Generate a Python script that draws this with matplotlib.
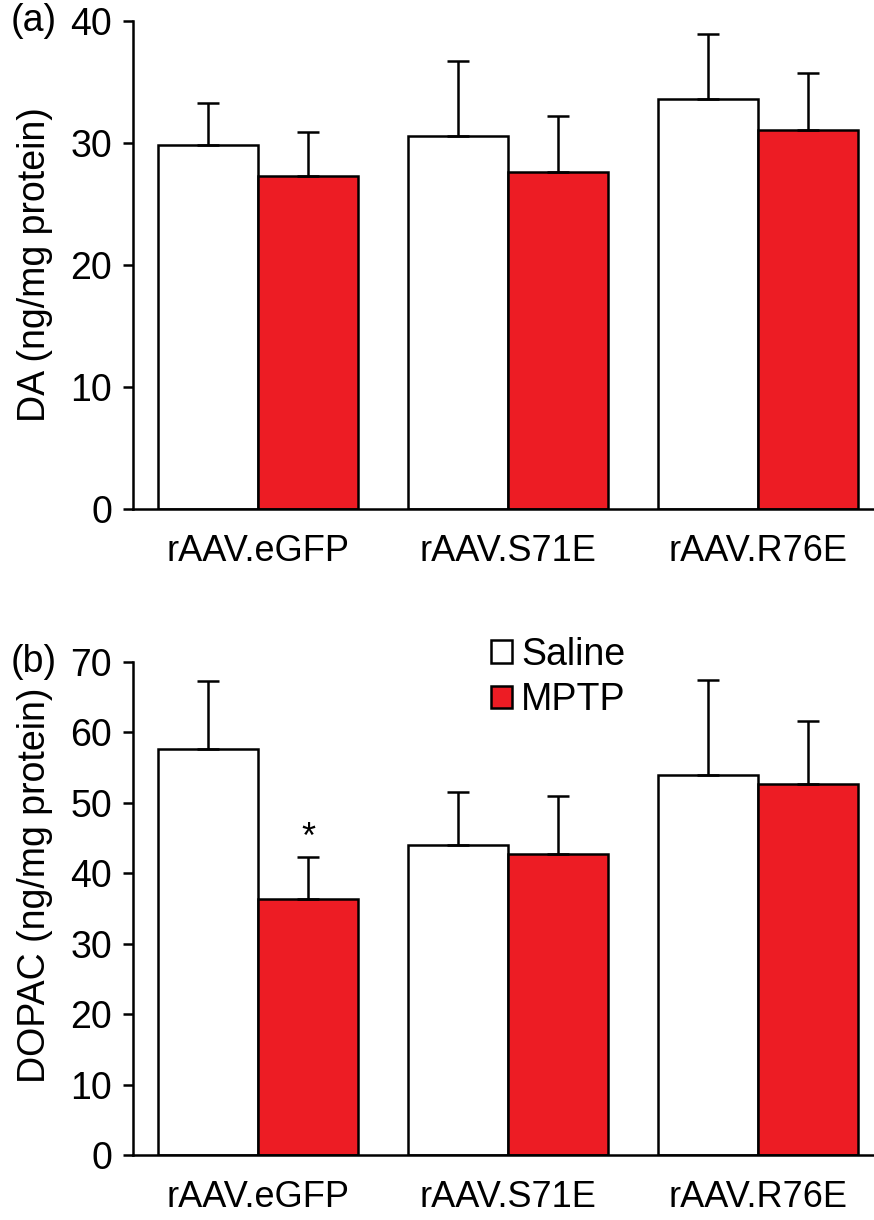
import numpy as np
import matplotlib
matplotlib.use('Agg')
import matplotlib.pyplot as plt
from matplotlib.patches import Patch

plt.rcParams['font.family'] = ['Liberation Sans', 'DejaVu Sans']

groups = ['rAAV.eGFP', 'rAAV.S71E', 'rAAV.R76E']
series = ['Saline', 'MPTP']

da_saline = [29.8, 30.6, 33.6]
da_saline_err = [3.5, 6.1, 5.3]
da_mptp = [27.3, 27.6, 31.1]
da_mptp_err = [3.6, 4.6, 4.6]

dopac_saline = [57.7, 44.0, 54.0]
dopac_saline_err = [9.6, 7.5, 13.5]
dopac_mptp = [36.3, 42.8, 52.7]
dopac_mptp_err = [6.0, 8.1, 8.9]

red = '#ED1C24'
lw = 1.8


def panel(ax, sal, sal_err, mp, mp_err, ymax, ystep, ylabel, label_y):
    x = np.arange(len(groups))
    w = 0.4
    ekw = dict(ecolor='black', elinewidth=lw, capsize=8, capthick=lw)
    ax.bar(x - w / 2, sal, w, color='white', edgecolor='black', linewidth=lw,
           yerr=[np.zeros(len(sal)), sal_err], error_kw=ekw, zorder=2)
    ax.bar(x + w / 2, mp, w, color=red, edgecolor='black', linewidth=lw,
           yerr=[np.zeros(len(mp)), mp_err], error_kw=ekw, zorder=2)
    ax.set_xlim(-0.5, 2.464)
    ax.set_ylim(0, ymax)
    ax.set_yticks(np.arange(0, ymax + 1, ystep))
    ax.set_xticks(x)
    ax.set_xticklabels(groups)
    ax.tick_params(axis='y', length=7, width=lw, pad=8, labelsize=27)
    ax.tick_params(axis='x', length=0, pad=18, labelsize=26)
    for s in ['top', 'right']:
        ax.spines[s].set_visible(False)
    for s in ['left', 'bottom']:
        ax.spines[s].set_linewidth(lw)
    ax.set_ylabel(ylabel, fontsize=27)
    ax.yaxis.set_label_coords(-0.108, label_y)
    return x, w


fig = plt.figure(figsize=(8.74, 12.2), dpi=100)
ax1 = fig.add_axes([0.1522, 0.5828, 0.8478, 0.4])
ax2 = fig.add_axes([0.1522, 0.0533, 0.8478, 0.4041])

panel(ax1, da_saline, da_saline_err, da_mptp, da_mptp_err, 40, 10,
      'DA (ng/mg protein)', 0.5)
x, w = panel(ax2, dopac_saline, dopac_saline_err, dopac_mptp, dopac_mptp_err,
             70, 10, 'DOPAC (ng/mg protein)', 0.548)

fig.text(0.012, 1 - 21 / 1220, '(a)', fontsize=27, ha='left', va='center')
fig.text(0.012, 1 - 662 / 1220, '(b)', fontsize=27, ha='left', va='center')

# significance marker on eGFP MPTP
ax2.text(x[0] + w / 2, dopac_mptp[0] + dopac_mptp_err[0] + 0.2, '*',
         ha='center', va='bottom', fontsize=26)

handles = [Patch(facecolor='white', edgecolor='black', linewidth=lw),
           Patch(facecolor=red, edgecolor='black', linewidth=lw)]
fig.legend(handles, series, loc='upper left', bbox_to_anchor=(0.562, 0.478),
           bbox_transform=fig.transFigure, frameon=False, fontsize=27,
           handlelength=0.55, handleheight=0.55, handletextpad=0.25,
           labelspacing=0.25, borderpad=0, borderaxespad=0)

fig.savefig('out.png', dpi=100)
